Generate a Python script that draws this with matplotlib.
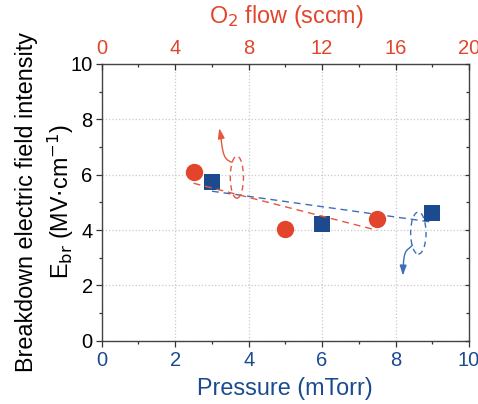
import numpy as np
import matplotlib
matplotlib.use("Agg")
import matplotlib.pyplot as plt
from matplotlib.patches import Ellipse, FancyArrowPatch
from matplotlib.path import Path
from matplotlib.ticker import MultipleLocator

plt.rcParams['font.family'] = ['Liberation Sans', 'DejaVu Sans']

# Breakdown field vs. chamber pressure (bottom axis)
pressure = [3, 6, 9]
ebr_pressure = [5.72, 4.21, 4.60]

# Breakdown field vs. O2 flow (top axis)
o2_flow = [5, 10, 15]
ebr_o2 = [6.10, 4.02, 4.40]

RED = '#E2452B'
BLUE = '#1B4B8E'
RED_LINE = '#E5573F'
BLUE_LINE = '#3F6DB8'
TICK_FS = 14.5
LABEL_FS = 16.8

fig = plt.figure(figsize=(4.78, 4.04), dpi=100)
ax = fig.add_axes([0.2128, 0.1567, 0.7684, 0.6849])
ax.set_xlim(0, 10)
ax.set_ylim(0, 10)
ax.xaxis.set_major_locator(MultipleLocator(2))
ax.xaxis.set_minor_locator(MultipleLocator(1))
ax.yaxis.set_major_locator(MultipleLocator(2))
ax.yaxis.set_minor_locator(MultipleLocator(1))
ax.grid(True, which='major', color='#c9c9c9', linestyle=':', linewidth=0.9)
ax.set_axisbelow(True)
ax.tick_params(axis='x', which='both', direction='out', labelcolor=BLUE,
               labelsize=TICK_FS, top=False, color='#333333', pad=3)
ax.tick_params(axis='y', which='both', direction='out', labelsize=TICK_FS,
               left=True, right=False, color='#333333', pad=2)
ax.tick_params(which='major', length=4.5, width=0.9)
ax.tick_params(which='minor', length=2.5, width=0.9)
for s in ax.spines.values():
    s.set_color('#444444')
    s.set_linewidth(1.0)

# right-hand mirrored ticks pointing inward
axr = ax.twinx()
axr.set_ylim(0, 10)
axr.yaxis.set_major_locator(MultipleLocator(2))
axr.yaxis.set_minor_locator(MultipleLocator(1))
axr.tick_params(axis='y', which='both', direction='in', labelright=False,
                color='#333333', width=0.9)
axr.tick_params(which='major', length=3)
axr.tick_params(which='minor', length=2.5)
for s in axr.spines.values():
    s.set_visible(False)

# top axis for O2 flow
axt = ax.twiny()
axt.set_xlim(0, 20)
axt.set_ylim(0, 10)
axt.xaxis.set_major_locator(MultipleLocator(4))
axt.xaxis.set_minor_locator(MultipleLocator(2))
axt.tick_params(axis='x', which='both', direction='in', labelcolor=RED,
                labelsize=TICK_FS, color='#333333', width=0.9, pad=4)
axt.tick_params(which='major', length=4.5)
axt.tick_params(which='minor', length=2.5)
for s in axt.spines.values():
    s.set_visible(False)

# linear fits
pf = np.polyfit(pressure, ebr_pressure, 1)
xp = np.array([pressure[0], pressure[-1]])
ax.plot(xp, np.polyval(pf, xp), linestyle=(0, (5, 3.5)), color=BLUE_LINE,
        linewidth=1.0, zorder=3)
of = np.polyfit(o2_flow, ebr_o2, 1)
xo = np.array([o2_flow[0], o2_flow[-1]])
axt.plot(xo, np.polyval(of, xo), linestyle=(0, (5, 3.5)), color=RED_LINE,
         linewidth=1.0, zorder=3)

# data points
axt.plot(o2_flow, ebr_o2, 'o', color=RED, markersize=12.5,
         markeredgewidth=0, zorder=5)
ax.plot(pressure, ebr_pressure, 's', color=BLUE, markersize=11.5,
        markeredgewidth=0, zorder=5)

# loops and arrows that tie each fit line to its axis
ax.add_patch(Ellipse((3.68, 5.91), 0.36, 1.52, fill=False, edgecolor=RED_LINE,
                     linestyle=(0, (4, 3)), linewidth=1.0, zorder=4))
ax.add_patch(Ellipse((8.62, 3.89), 0.42, 1.52, fill=False, edgecolor=BLUE_LINE,
                     linestyle=(0, (4, 3)), linewidth=1.0, zorder=4))

red_path = Path([(3.55, 6.45), (3.25, 6.55), (3.30, 7.0), (3.20, 7.68)],
                [Path.MOVETO, Path.CURVE4, Path.CURVE4, Path.CURVE4])
ax.add_patch(FancyArrowPatch(path=red_path, arrowstyle='-|>,head_length=6,head_width=2.0',
                             color=RED_LINE, linewidth=1.0, zorder=4))
blue_path = Path([(8.46, 3.46), (8.30, 3.20), (8.22, 3.40), (8.20, 2.35)],
                 [Path.MOVETO, Path.CURVE4, Path.CURVE4, Path.CURVE4])
ax.add_patch(FancyArrowPatch(path=blue_path, arrowstyle='-|>,head_length=6,head_width=2.0',
                             color=BLUE_LINE, linewidth=1.0, zorder=4))

# axis titles
fig.text(285 / 478, 1 - 389 / 404, 'Pressure (mTorr)', color=BLUE,
         fontsize=LABEL_FS, ha='center', va='center')
fig.text(286 / 478, 1 - 17 / 404, 'O$_2$ flow (sccm)', color=RED,
         fontsize=LABEL_FS, ha='center', va='center')
fig.text(27 / 478, 0.5, 'Breakdown electric field intensity', rotation=90,
         fontsize=LABEL_FS, ha='center', va='center')
fig.text(61 / 478, 0.5, 'E$_{\\mathrm{br}}$ (MV$\\cdot$cm$^{-1}$)', rotation=90,
         fontsize=LABEL_FS, ha='center', va='center')

fig.savefig('out.png', dpi=100)
